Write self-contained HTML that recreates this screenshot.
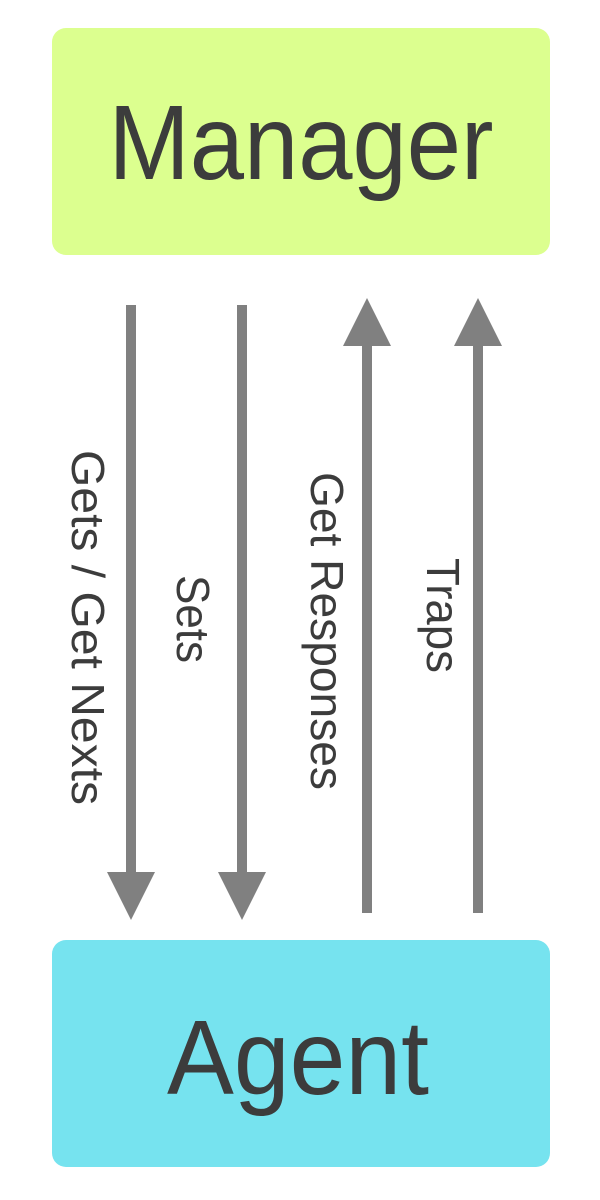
<!DOCTYPE html>
<html><head><style>html,body{margin:0;padding:0;background:#fff;width:600px;height:1200px;overflow:hidden}</style></head>
<body>
<svg width="600" height="1200" xmlns="http://www.w3.org/2000/svg" font-family="'Liberation Sans', 'DejaVu Sans', sans-serif" fill="#3c3c3c">
<rect x="52" y="28" width="498" height="227" rx="14" fill="#dcff8f"/>
<rect x="52" y="940" width="498" height="227" rx="14" fill="#76e3ef"/>
<text x="301" y="179" font-size="106" text-anchor="middle" textLength="385" lengthAdjust="spacingAndGlyphs">Manager</text>
<text x="298" y="1094" font-size="106" text-anchor="middle" textLength="262" lengthAdjust="spacingAndGlyphs">Agent</text>
<g fill="#808080">
<rect x="126" y="305" width="10" height="575"/><polygon points="107,872 155,872 131,920"/>
<rect x="237" y="305" width="10" height="575"/><polygon points="218,872 266,872 242,920"/>
<rect x="362" y="340" width="10" height="573"/><polygon points="343,346 391,346 367,298"/>
<rect x="473" y="340" width="10" height="573"/><polygon points="454,346 502,346 478,298"/>
</g>
<g font-size="46">
<text transform="translate(72,450) rotate(90)" textLength="355" lengthAdjust="spacingAndGlyphs">Gets / Get Nexts</text>
<text transform="translate(177,575) rotate(90)" textLength="88" lengthAdjust="spacingAndGlyphs">Sets</text>
<text transform="translate(311,472) rotate(90)" textLength="318" lengthAdjust="spacingAndGlyphs">Get Responses</text>
<text transform="translate(427,558) rotate(90)" textLength="115" lengthAdjust="spacingAndGlyphs">Traps</text>
</g>
</svg>
</body></html>
